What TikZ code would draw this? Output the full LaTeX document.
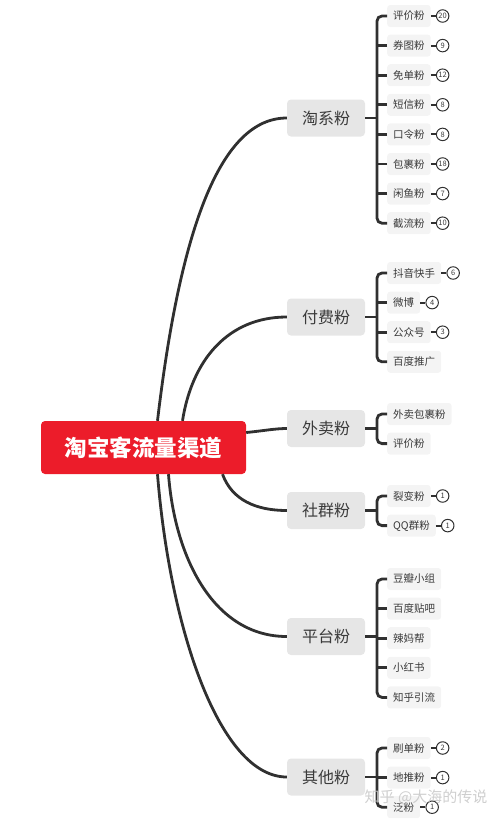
\documentclass[tikz,border=0pt]{standalone}
\usepackage{fontspec}
\setmainfont{Noto Sans CJK SC}
\usetikzlibrary{positioning}
\definecolor{rootred}{HTML}{EC1C2A}
\definecolor{mainfill}{HTML}{E6E6E6}
\definecolor{subfill}{HTML}{F4F4F4}
\definecolor{linedark}{HTML}{303030}
\definecolor{textdark}{HTML}{3A3A3A}

\begin{document}
\begin{tikzpicture}[x=1pt, y=-1pt, node distance=7.2pt,
  root/.style={fill=rootred,rounded corners=4pt,minimum width=205pt,minimum height=53pt,text=white,font=\fontsize{22.5}{26}\selectfont\bfseries},
  topic/.style={fill=mainfill,rounded corners=4pt,minimum width=78pt,minimum height=37pt,text=textdark,font=\fontsize{16}{18}\selectfont},
  leaf/.style={fill=subfill,rounded corners=3pt,minimum height=22pt,inner xsep=6pt,text=textdark,font=\fontsize{10.5}{12}\selectfont,anchor=west},
  under/.style={below=7.2pt of #1.south west,anchor=north west},
  badge/.style={circle,draw=linedark,line width=1pt,minimum size=12.5pt,inner sep=0pt,text=textdark,font=\fontsize{7.5}{8}\selectfont},
  link/.style={draw=linedark,line width=2.8pt},
  tick/.style={draw=linedark,line width=2pt},
  watermark/.style={text=gray!45,opacity=0.85,font=\fontsize{15}{17}\selectfont}]
\useasboundingbox (0,0) rectangle (500,820);

\node[root] (root) at (143.5,447.5) {淘宝客流量渠道};
\node[topic] (tao) at (326,118) {淘系粉};
\node[topic] (pay) at (326,317) {付费粉};
\node[topic] (food) at (326,428.5) {外卖粉};
\node[topic] (club) at (326,510.5) {社群粉};
\node[topic] (plat) at (326,636.5) {平台粉};
\node[topic] (misc) at (326,777) {其他粉};

% root to topics
\draw[link] ([xshift=14pt]root.north) .. controls (180,230) and (220,118) .. (tao.west);
\draw[link] ([xshift=39pt]root.north) .. controls (192,360) and (228,317) .. (pay.west);
\draw[link] ([yshift=15pt]root.east) .. controls (262,431) and (275,428.5) .. (food.west);
\draw[link] ([xshift=79pt]root.south) .. controls (232,500) and (256,510.5) .. (club.west);
\draw[link] ([xshift=25pt]root.south) .. controls (175,560) and (215,636.5) .. (plat.west);
\draw[link] ([xshift=14pt]root.south) .. controls (170,630) and (220,777) .. (misc.west);

% 淘系粉
\node[leaf] (t1) at (387,16) {评价粉};
\node[leaf,under=t1] (t2) {券图粉};
\node[leaf,under=t2] (t3) {免单粉};
\node[leaf,under=t3] (t4) {短信粉};
\node[leaf,under=t4] (t5) {口令粉};
\node[leaf,under=t5] (t6) {包裹粉};
\node[leaf,under=t6] (t7) {闲鱼粉};
\node[leaf,under=t7] (t8) {截流粉};
\node[badge,right=5pt of t1] (tb1) {20};
\node[badge,right=5pt of t2] (tb2) {9};
\node[badge,right=5pt of t3] (tb3) {12};
\node[badge,right=5pt of t4] (tb4) {8};
\node[badge,right=5pt of t5] (tb5) {8};
\node[badge,right=5pt of t6] (tb6) {18};
\node[badge,right=5pt of t7] (tb7) {7};
\node[badge,right=5pt of t8] (tb8) {10};
\coordinate (taox) at (377,118);
\draw[link] (tao.east) -- (taox);
\draw[link,rounded corners=5pt] (t1.west) -| (taox) |- (t8.west);
\draw[link] (t2.west) -- ++(-10,0);\draw[link] (t3.west) -- ++(-10,0);\draw[link] (t4.west) -- ++(-10,0);
\draw[link] (t5.west) -- ++(-10,0);\draw[link] (t6.west) -- ++(-10,0);\draw[link] (t7.west) -- ++(-10,0);
\draw[tick] (t1) -- (tb1);\draw[tick] (t2) -- (tb2);\draw[tick] (t3) -- (tb3);\draw[tick] (t4) -- (tb4);
\draw[tick] (t5) -- (tb5);\draw[tick] (t6) -- (tb6);\draw[tick] (t7) -- (tb7);\draw[tick] (t8) -- (tb8);

% 付费粉
\node[leaf] (f1) at (387,273) {抖音快手};
\node[leaf,under=f1] (f2) {微博};
\node[leaf,under=f2] (f3) {公众号};
\node[leaf,under=f3] (f4) {百度推广};
\node[badge,right=5pt of f1] (fb1) {6};
\node[badge,right=5pt of f2] (fb2) {4};
\node[badge,right=5pt of f3] (fb3) {3};
\coordinate (payx) at (377,317);
\draw[link] (pay.east) -- (payx);
\draw[link,rounded corners=5pt] (f1.west) -| (payx) |- (f4.west);
\draw[link] (f2.west) -- ++(-10,0);\draw[link] (f3.west) -- ++(-10,0);
\draw[tick] (f1) -- (fb1);\draw[tick] (f2) -- (fb2);\draw[tick] (f3) -- (fb3);

% 外卖粉
\node[leaf] (w1) at (387,414) {外卖包裹粉};
\node[leaf,under=w1] (w2) {评价粉};
\coordinate (foodx) at (377,428.5);
\draw[link] (food.east) -- (foodx);
\draw[link,rounded corners=5pt] (w1.west) -| (foodx) |- (w2.west);

% 社群粉
\node[leaf] (s1) at (387,496) {裂变粉};
\node[leaf,under=s1] (s2) {QQ群粉};
\node[badge,right=5pt of s1] (sb1) {1};
\node[badge,right=5pt of s2] (sb2) {1};
\coordinate (clubx) at (377,510.5);
\draw[link] (club.east) -- (clubx);
\draw[link,rounded corners=5pt] (s1.west) -| (clubx) |- (s2.west);
\draw[tick] (s1) -- (sb1);\draw[tick] (s2) -- (sb2);

% 平台粉
\node[leaf] (p1) at (387,579) {豆瓣小组};
\node[leaf,under=p1] (p2) {百度贴吧};
\node[leaf,under=p2] (p3) {辣妈帮};
\node[leaf,under=p3] (p4) {小红书};
\node[leaf,under=p4] (p5) {知乎引流};
\coordinate (platx) at (377,636.5);
\draw[link] (plat.east) -- (platx);
\draw[link,rounded corners=5pt] (p1.west) -| (platx) |- (p5.west);
\draw[link] (p2.west) -- ++(-10,0);\draw[link] (p3.west) -- ++(-10,0);\draw[link] (p4.west) -- ++(-10,0);

% 其他粉
\node[leaf] (o1) at (387,748) {刷单粉};
\node[leaf,under=o1] (o2) {地推粉};
\node[leaf,under=o2] (o3) {泛粉};
\node[badge,right=5pt of o1] (ob1) {2};
\node[badge,right=5pt of o2] (ob2) {1};
\node[badge,right=5pt of o3] (ob3) {1};
\coordinate (miscx) at (377,777);
\draw[link] (misc.east) -- (miscx);
\draw[link,rounded corners=5pt] (o1.west) -| (miscx) |- (o3.west);
\draw[link] (o2.west) -- ++(-10,0);
\draw[tick] (o1) -- (ob1);\draw[tick] (o2) -- (ob2);\draw[tick] (o3) -- (ob3);

\node[watermark] (wm) at (426,797) {知乎 @大海的传说};
\end{tikzpicture}
\end{document}
